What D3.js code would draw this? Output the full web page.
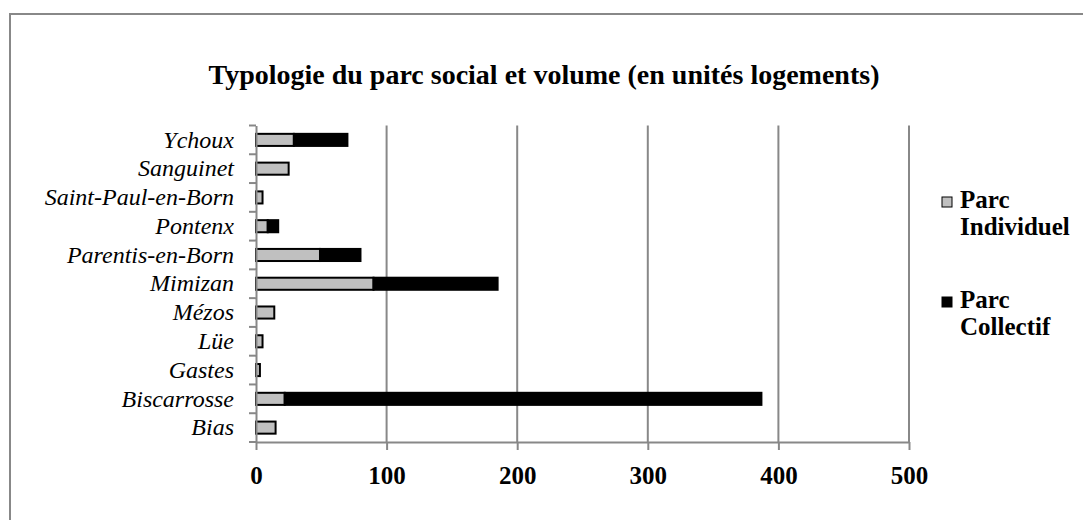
<!DOCTYPE html>
<html lang="fr">
<head>
<meta charset="utf-8">
<title>Typologie du parc social</title>
<script src="https://cdn.jsdelivr.net/npm/d3@7"></script>
<style>
  body { margin: 0; background: #fff; }
  text { font-family: "Liberation Serif", "DejaVu Serif", serif; }
</style>
</head>
<body>
<script>
// communes, from bottom to top as in the reference
var communes = ["Bias", "Biscarrosse", "Gastes", "Lüe", "Mézos", "Mimizan",
                "Parentis-en-Born", "Pontenx", "Saint-Paul-en-Born", "Sanguinet", "Ychoux"];
var individuel = [15, 22, 3, 5, 14, 90, 49, 9, 5, 25, 29];
var collectif  = [0, 365, 0, 0, 0, 95, 31, 8, 0, 0, 41];
var seriesNames = ["Parc Individuel", "Parc Collectif"];
var seriesColors = ["#c0c0c0", "#000000"];
var xTicks = [0, 100, 200, 300, 400, 500];

var W = 1083, H = 520;
var pLeft = 256, pRight = 909, pTop = 125.5, pBottom = 442;

var svg = d3.select("body").append("svg")
    .attr("width", W).attr("height", H);

// chart border (only top and left visible)
svg.append("rect")
    .attr("x", 10).attr("y", 14)
    .attr("width", W + 20).attr("height", H + 20)
    .attr("fill", "none").attr("stroke", "#888").attr("stroke-width", 2);

// title
svg.append("text")
    .attr("x", 544).attr("y", 84)
    .attr("text-anchor", "middle")
    .attr("font-size", "28px").attr("font-weight", "bold")
    .text("Typologie du parc social et volume (en unités logements)");

var x = d3.scaleLinear().domain([0, 500]).range([pLeft, pRight]);
var order = communes.slice().reverse();
var y = d3.scaleBand().domain(order)
    .range([pTop, pBottom]).paddingInner(0.58).paddingOuter(0.29);
var yb = d3.scaleBand().domain(order).range([pTop, pBottom]);

// gridlines
svg.append("g").selectAll("line")
    .data(xTicks.slice(1))
    .enter().append("line")
    .attr("x1", function(d) { return x(d); })
    .attr("x2", function(d) { return x(d); })
    .attr("y1", pTop).attr("y2", pBottom)
    .attr("stroke", "#888").attr("stroke-width", 2);

// stacked data
var rows = communes.map(function(c, i) {
    return { commune: c, "Parc Individuel": individuel[i], "Parc Collectif": collectif[i] };
});
var stacked = d3.stack().keys(seriesNames)(rows);

svg.append("g").selectAll("g")
    .data(stacked)
    .enter().append("g")
    .attr("fill", function(d, i) { return seriesColors[i]; })
    .selectAll("rect")
    .data(function(d) { return d.filter(function(p) { return p[1] - p[0] > 0; }); })
    .enter().append("rect")
    .attr("x", function(d) { return x(d[0]); })
    .attr("y", function(d) { return y(d.data.commune); })
    .attr("width", function(d) { return x(d[1]) - x(d[0]); })
    .attr("height", y.bandwidth())
    .attr("stroke", "#000").attr("stroke-width", 2);

// x axis
var xAxis = svg.append("g")
    .attr("transform", "translate(0," + pBottom + ")")
    .call(d3.axisBottom(x).tickValues(xTicks).tickSize(8).tickPadding(16).tickSizeOuter(0));
xAxis.select(".domain").attr("stroke", "#888").attr("stroke-width", 2);
xAxis.selectAll(".tick line").attr("stroke", "#888").attr("stroke-width", 2);
xAxis.selectAll("text")
    .attr("font-size", "25px").attr("font-weight", "bold").attr("fill", "#000")
    .style("font-family", "'Liberation Serif', serif");

// y axis
var yAxis = svg.append("g")
    .attr("transform", "translate(" + pLeft + ",0)")
    .call(d3.axisLeft(yb).tickSize(0).tickPadding(22).tickSizeOuter(0));
yAxis.select(".domain").attr("stroke", "#888").attr("stroke-width", 2);
yAxis.selectAll("text")
    .attr("font-size", "24px").attr("font-style", "italic").attr("fill", "#000")
    .style("font-family", "'Liberation Serif', serif");
// tick marks between categories
svg.append("g").selectAll("line")
    .data(d3.range(communes.length + 1))
    .enter().append("line")
    .attr("x1", pLeft - 7).attr("x2", pLeft)
    .attr("y1", function(i) { return pTop + i * yb.step(); })
    .attr("y2", function(i) { return pTop + i * yb.step(); })
    .attr("stroke", "#888").attr("stroke-width", 2);

// legend
var legend = svg.append("g").selectAll("g")
    .data(seriesNames)
    .enter().append("g")
    .attr("transform", function(d, i) { return "translate(942," + (202 + i * 100) + ")"; });
legend.append("rect")
    .attr("x", 0).attr("y", -5).attr("width", 10).attr("height", 10)
    .attr("fill", function(d, i) { return seriesColors[i]; })
    .attr("stroke", "#000").attr("stroke-width", 1);
legend.append("text")
    .attr("x", 18).attr("y", 6)
    .attr("font-size", "25px").attr("font-weight", "bold")
    .text(function(d) { return d.split(" ")[0]; });
legend.append("text")
    .attr("x", 18).attr("y", 33)
    .attr("font-size", "25px").attr("font-weight", "bold")
    .text(function(d) { return d.split(" ")[1]; });
</script>
</body>
</html>
